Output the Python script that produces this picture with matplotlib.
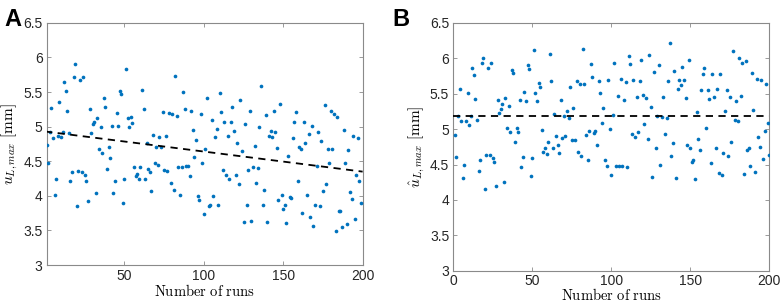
import numpy as np
import matplotlib
matplotlib.use("Agg")
import matplotlib.pyplot as plt

plt.rcParams["font.family"] = ["Liberation Sans", "DejaVu Sans"]
plt.rcParams["mathtext.fontset"] = "cm"

# panel A: maximum displacement per run
u_max = [
    4.73, 4.47, 4.92, 5.27, 4.83, 4.01, 4.25, 4.87, 5.35, 4.85,
    4.92, 5.65, 5.51, 5.22, 4.91, 4.22, 4.34, 5.71, 5.90, 3.85,
    4.36, 5.67, 4.35, 5.72, 4.30, 4.22, 3.92, 5.26, 4.91, 5.04,
    5.07, 4.04, 5.12, 4.67, 5.00, 4.62, 5.41, 5.28, 4.39, 4.71,
    4.55, 5.01, 4.04, 4.22, 5.20, 5.01, 5.52, 5.47, 3.89, 4.25,
    5.83, 5.12, 4.99, 5.14, 5.05, 4.42, 4.29, 4.31, 4.24, 4.42,
    5.53, 5.25, 4.25, 4.76, 4.39, 4.34, 4.07, 4.88, 4.47, 4.71,
    4.45, 4.85, 4.70, 5.21, 4.38, 4.87, 4.36, 5.19, 4.18, 5.18,
    4.08, 5.73, 5.16, 4.42, 4.01, 4.41, 5.50, 5.25, 4.43, 4.43,
    4.28, 5.22, 4.95, 4.56, 4.80, 4.00, 3.94, 5.18, 4.48, 3.74,
    4.67, 5.42,
    3.85, 3.87, 5.09, 4.00, 4.85, 4.97, 3.87, 5.49, 5.21, 4.37,
    5.06, 4.30, 4.86, 4.25, 5.07, 5.29, 4.93, 4.30, 4.77, 4.17,
    5.39, 4.65, 3.62, 5.04, 3.87, 4.38, 5.23, 3.64, 4.42, 4.72,
    4.19, 4.40, 5.00, 5.58, 3.87, 4.09, 5.17, 3.62, 4.87, 4.93,
    4.85, 5.23, 4.92, 4.69, 3.94, 5.32, 4.01, 3.81, 3.87, 3.61,
    4.58, 3.98, 3.97, 4.83, 5.07, 5.21, 4.21, 4.70, 4.68, 3.75,
    5.07, 4.77, 4.01, 4.90, 3.69, 5.01, 3.57, 3.87, 4.43, 4.92,
    3.86, 4.79, 4.07, 5.31, 4.17, 4.67, 4.48, 5.22, 4.67, 5.18,
    3.49, 5.14, 3.78, 3.78, 3.55, 4.95, 4.48, 3.60, 4.66, 4.05,
    3.96, 4.87, 3.67, 4.30, 4.84, 4.21, 3.90,
]
trend_ends = [4.93, 4.35]  # linear trend at x=0 and x=200

# panel B: corrected maximum displacement per run
u_hat = [
    4.91, 4.60, 5.18, 5.57, 5.12, 4.31, 4.49, 5.11, 5.51, 5.06,
    5.18, 5.86, 5.77, 5.42, 5.13, 4.41, 4.56, 5.93, 6.01, 4.16,
    4.64, 5.86, 4.63, 5.93, 4.59, 4.54, 4.20, 5.41, 5.23, 5.29,
    5.36, 4.25, 5.44, 5.01, 5.32, 4.96, 5.83, 5.79, 4.82, 5.01,
    4.96, 5.41, 4.47, 4.61, 5.53, 5.40, 5.91, 5.85, 4.34, 4.59,
    6.12, 5.51, 5.40, 5.65, 5.59, 4.99, 4.68, 4.74, 4.65, 4.82,
    6.06, 5.68, 4.74, 5.22, 4.90, 4.78, 4.66, 5.41, 4.87, 5.18,
    4.90, 5.26, 5.16, 5.60, 4.85, 5.30, 4.84, 5.68, 4.68, 5.64,
    4.62, 6.13, 5.63, 4.92, 4.56, 4.98, 5.92, 5.73, 4.95, 4.97,
    4.78, 5.68, 5.51, 5.09, 5.30, 4.56, 4.48, 5.70, 5.00, 4.35,
    5.20,
    5.93, 4.48, 5.47, 4.48, 5.71, 4.48, 5.41, 5.67, 4.47, 6.03,
    5.92, 4.93, 5.69, 4.89, 5.45, 4.96, 5.68, 5.97, 5.48, 5.07,
    5.44, 4.86, 6.04, 5.31, 4.33, 5.81, 4.74, 5.19, 5.91, 4.50,
    5.17, 5.46, 4.93, 5.16, 5.68, 6.21, 4.62, 4.81, 5.82, 4.31,
    5.56, 5.69, 5.62, 5.87, 5.69, 5.44, 4.77, 5.98, 4.74, 4.53,
    4.56, 4.30, 5.24, 4.86, 4.70, 5.55, 5.78, 5.86, 5.01, 5.55,
    5.42, 4.52, 5.78, 5.45, 4.74, 5.56, 4.38, 5.78, 4.35, 4.67,
    5.26, 5.55, 4.62, 5.46, 4.82, 6.10, 5.13, 5.40, 5.12, 6.00,
    5.47, 5.93, 4.36, 5.96, 4.71, 4.74, 4.48, 5.79, 5.27, 4.39,
    5.71, 4.89, 4.75, 5.70, 4.58, 4.97, 5.63, 5.08, 4.63,
]
mean_hat = 5.19

y_ticks = [3, 3.5, 4, 4.5, 5, 5.5, 6, 6.5]
y_tick_labels = ["3", "3.5", "4", "4.5", "5", "5.5", "6", "6.5"]

blue = "#0072BD"
spine_col = "#8a8a8a"


def style_axes(ax, xticks, xpad, lpad):
    ax.set_ylim(3, 6.5)
    ax.set_yticks(y_ticks)
    ax.set_yticklabels(y_tick_labels)
    ax.set_xticks(xticks)
    ax.tick_params(direction="in", top=True, right=True, length=3,
                   width=0.6, color=spine_col, labelsize=10, pad=3,
                   labelcolor="#262626")
    ax.tick_params(axis="x", pad=xpad)
    for s in ax.spines.values():
        s.set_color(spine_col)
        s.set_linewidth(0.8)
    ax.set_xlabel(r"$\mathrm{Number\ of\ runs}$", fontsize=10.5, labelpad=lpad)


fig = plt.figure(figsize=(7.82, 3.04), dpi=100)

ax1 = fig.add_axes([0.0597, 0.128, 0.404, 0.797])
x1 = np.arange(1, len(u_max) + 1)
ax1.scatter(x1, u_max, s=7, color=blue, linewidths=0, zorder=3)
ax1.plot([0, 200], trend_ends, color="black", linestyle="--",
         linewidth=1.3, dashes=(4, 3), zorder=4)
ax1.set_xlim(1, 200)
style_axes(ax1, [50, 100, 150, 200], 3, 0)
ax1.set_ylabel(r"$u_{L,max}\ [\mathrm{mm}]$", fontsize=11, labelpad=2)
fig.text(0.005, 0.975, "A", fontsize=17, fontweight="bold", va="top")

ax2 = fig.add_axes([0.5797, 0.109, 0.404, 0.816])
x2 = np.arange(1, len(u_hat) + 1)
ax2.scatter(x2, u_hat, s=7, color=blue, linewidths=0, zorder=3)
ax2.axhline(mean_hat, color="black", linestyle="--", linewidth=1.3,
            dashes=(4, 3), zorder=4)
ax2.set_xlim(0, 200)
style_axes(ax2, [0, 50, 100, 150, 200], 2, -0.5)
ax2.set_ylabel(r"$\hat{u}_{L,max}\ [\mathrm{mm}]$", fontsize=11, labelpad=2)
fig.text(0.502, 0.975, "B", fontsize=17, fontweight="bold", va="top")

fig.savefig("out.png", dpi=100)
